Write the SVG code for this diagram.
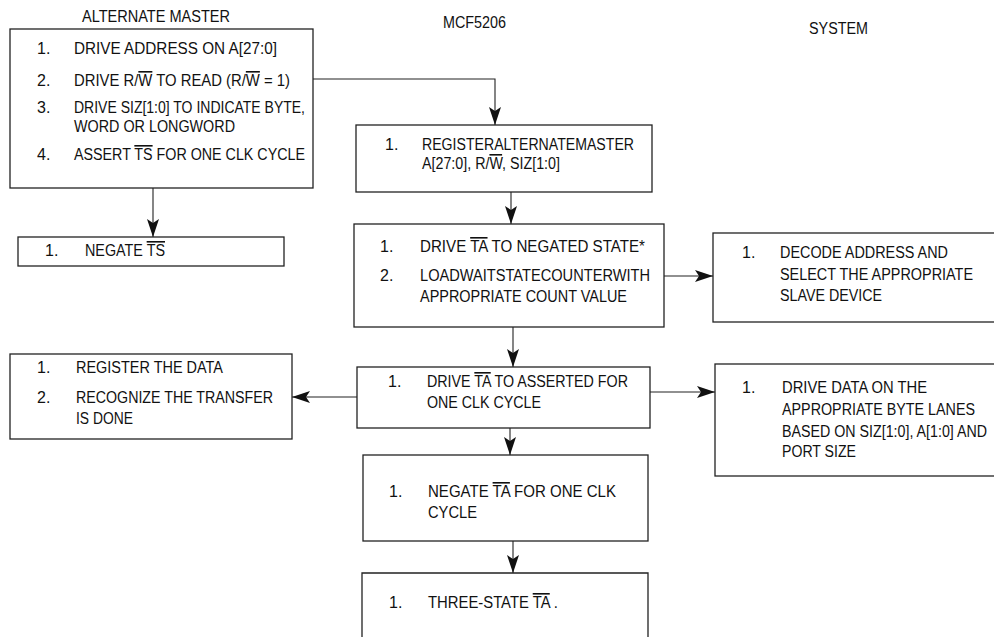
<svg xmlns="http://www.w3.org/2000/svg" width="994" height="637" viewBox="0 0 994 637">
<defs>
<style>
text{font-family:"Liberation Sans",Arial,sans-serif;font-size:16px;fill:#111}
.box{fill:#fff;stroke:#222;stroke-width:1.3}
.con{fill:none;stroke:#222;stroke-width:1.1}
.ob{text-decoration:overline}
</style>
<marker id="ah" markerUnits="userSpaceOnUse" markerWidth="20" markerHeight="13" refX="18" refY="6.5" orient="auto">
<path d="M0,0.5 L18,6.5 L0,12.5 L4,6.5 Z" fill="#111"/>
</marker>
</defs>
<rect width="994" height="637" fill="#fff"/>

<g id="headers">
<text x="82" y="22" textLength="148" lengthAdjust="spacingAndGlyphs">ALTERNATE MASTER</text>
<text x="443" y="28" textLength="63" lengthAdjust="spacingAndGlyphs">MCF5206</text>
<text x="809" y="34" textLength="59" lengthAdjust="spacingAndGlyphs">SYSTEM</text>
</g>

<g id="connectors">
<path class="con" d="M313,79 H495 V125" marker-end="url(#ah)"/>
<path class="con" d="M153,188 V237" marker-end="url(#ah)"/>
<path class="con" d="M511,192 V224" marker-end="url(#ah)"/>
<path class="con" d="M664,276 H713" marker-end="url(#ah)"/>
<path class="con" d="M513,327 V367" marker-end="url(#ah)"/>
<path class="con" d="M357,397 H292" marker-end="url(#ah)"/>
<path class="con" d="M650,392 H715" marker-end="url(#ah)"/>
<path class="con" d="M510,428 V455" marker-end="url(#ah)"/>
<path class="con" d="M513,541 V573" marker-end="url(#ah)"/>
</g>

<g id="alt-master-start">
<rect class="box" x="10" y="29" width="303" height="159"/>
<text x="37" y="54">1.</text>
<text x="74" y="54" textLength="203" lengthAdjust="spacingAndGlyphs">DRIVE ADDRESS ON A[27:0]</text>
<text x="37" y="86">2.</text>
<text x="74" y="86" textLength="216" lengthAdjust="spacingAndGlyphs">DRIVE R/<tspan class="ob">W</tspan>  TO READ (R/<tspan class="ob">W</tspan>  = 1)</text>
<text x="37" y="113">3.</text>
<text x="74" y="113" textLength="231" lengthAdjust="spacingAndGlyphs">DRIVE SIZ[1:0] TO INDICATE BYTE,</text>
<text x="74" y="132" textLength="161" lengthAdjust="spacingAndGlyphs">WORD OR LONGWORD</text>
<text x="37" y="160">4.</text>
<text x="74" y="160" textLength="231" lengthAdjust="spacingAndGlyphs">ASSERT <tspan class="ob">TS</tspan> FOR ONE CLK CYCLE</text>
</g>

<g id="alt-negate-ts">
<rect class="box" x="18" y="237" width="266" height="29"/>
<text x="45" y="256">1.</text>
<text x="85" y="256" textLength="80" lengthAdjust="spacingAndGlyphs">NEGATE <tspan class="ob">TS</tspan></text>
</g>

<g id="alt-register-data">
<rect class="box" x="10" y="354" width="282" height="85"/>
<text x="37" y="373">1.</text>
<text x="76" y="373" textLength="147" lengthAdjust="spacingAndGlyphs">REGISTER THE DATA</text>
<text x="37" y="403">2.</text>
<text x="76" y="403" textLength="197" lengthAdjust="spacingAndGlyphs">RECOGNIZE THE TRANSFER</text>
<text x="76" y="424" textLength="57" lengthAdjust="spacingAndGlyphs">IS DONE</text>
</g>

<g id="mcf-register">
<rect class="box" x="356" y="125" width="296" height="67"/>
<text x="385" y="150">1.</text>
<text x="422" y="150" textLength="212" lengthAdjust="spacingAndGlyphs">REGISTERALTERNATEMASTER</text>
<text x="422" y="169" textLength="138" lengthAdjust="spacingAndGlyphs">A[27:0], R/<tspan class="ob">W</tspan>, SIZ[1:0]</text>
</g>

<g id="mcf-drive-ta-negated">
<rect class="box" x="354" y="224" width="310" height="103"/>
<text x="380" y="252">1.</text>
<text x="420" y="252" textLength="225" lengthAdjust="spacingAndGlyphs">DRIVE <tspan class="ob">TA</tspan>  TO NEGATED STATE*</text>
<text x="380" y="281">2.</text>
<text x="420" y="281" textLength="230" lengthAdjust="spacingAndGlyphs">LOADWAITSTATECOUNTERWITH</text>
<text x="420" y="302" textLength="207" lengthAdjust="spacingAndGlyphs">APPROPRIATE COUNT VALUE</text>
</g>

<g id="mcf-drive-ta-asserted">
<rect class="box" x="357" y="367" width="293" height="61"/>
<text x="388" y="387">1.</text>
<text x="427" y="387" textLength="201" lengthAdjust="spacingAndGlyphs">DRIVE <tspan class="ob">TA</tspan> TO ASSERTED FOR</text>
<text x="427" y="408" textLength="114" lengthAdjust="spacingAndGlyphs">ONE CLK CYCLE</text>
</g>

<g id="mcf-negate-ta">
<rect class="box" x="363" y="455" width="285" height="86"/>
<text x="389" y="497">1.</text>
<text x="428" y="497" textLength="188" lengthAdjust="spacingAndGlyphs">NEGATE <tspan class="ob">TA</tspan>  FOR ONE CLK</text>
<text x="428" y="518" textLength="49" lengthAdjust="spacingAndGlyphs">CYCLE</text>
</g>

<g id="mcf-three-state">
<path class="box" d="M362,640 V573 H648 V640"/>
<text x="389" y="608">1.</text>
<text x="428" y="608" textLength="130" lengthAdjust="spacingAndGlyphs">THREE-STATE <tspan class="ob">TA</tspan> .</text>
</g>

<g id="sys-decode">
<rect class="box" x="713" y="233" width="290" height="89"/>
<text x="742" y="258">1.</text>
<text x="780" y="258" textLength="168" lengthAdjust="spacingAndGlyphs">DECODE ADDRESS AND</text>
<text x="780" y="280" textLength="193" lengthAdjust="spacingAndGlyphs">SELECT THE APPROPRIATE</text>
<text x="780" y="301" textLength="102" lengthAdjust="spacingAndGlyphs">SLAVE DEVICE</text>
</g>

<g id="sys-drive-data">
<rect class="box" x="715" y="364" width="290" height="112"/>
<text x="742" y="393">1.</text>
<text x="782" y="393" textLength="145" lengthAdjust="spacingAndGlyphs">DRIVE DATA ON THE</text>
<text x="782" y="415" textLength="193" lengthAdjust="spacingAndGlyphs">APPROPRIATE BYTE LANES</text>
<text x="782" y="437" textLength="205" lengthAdjust="spacingAndGlyphs">BASED ON SIZ[1:0], A[1:0] AND</text>
<text x="782" y="457" textLength="74" lengthAdjust="spacingAndGlyphs">PORT SIZE</text>
</g>
</svg>
